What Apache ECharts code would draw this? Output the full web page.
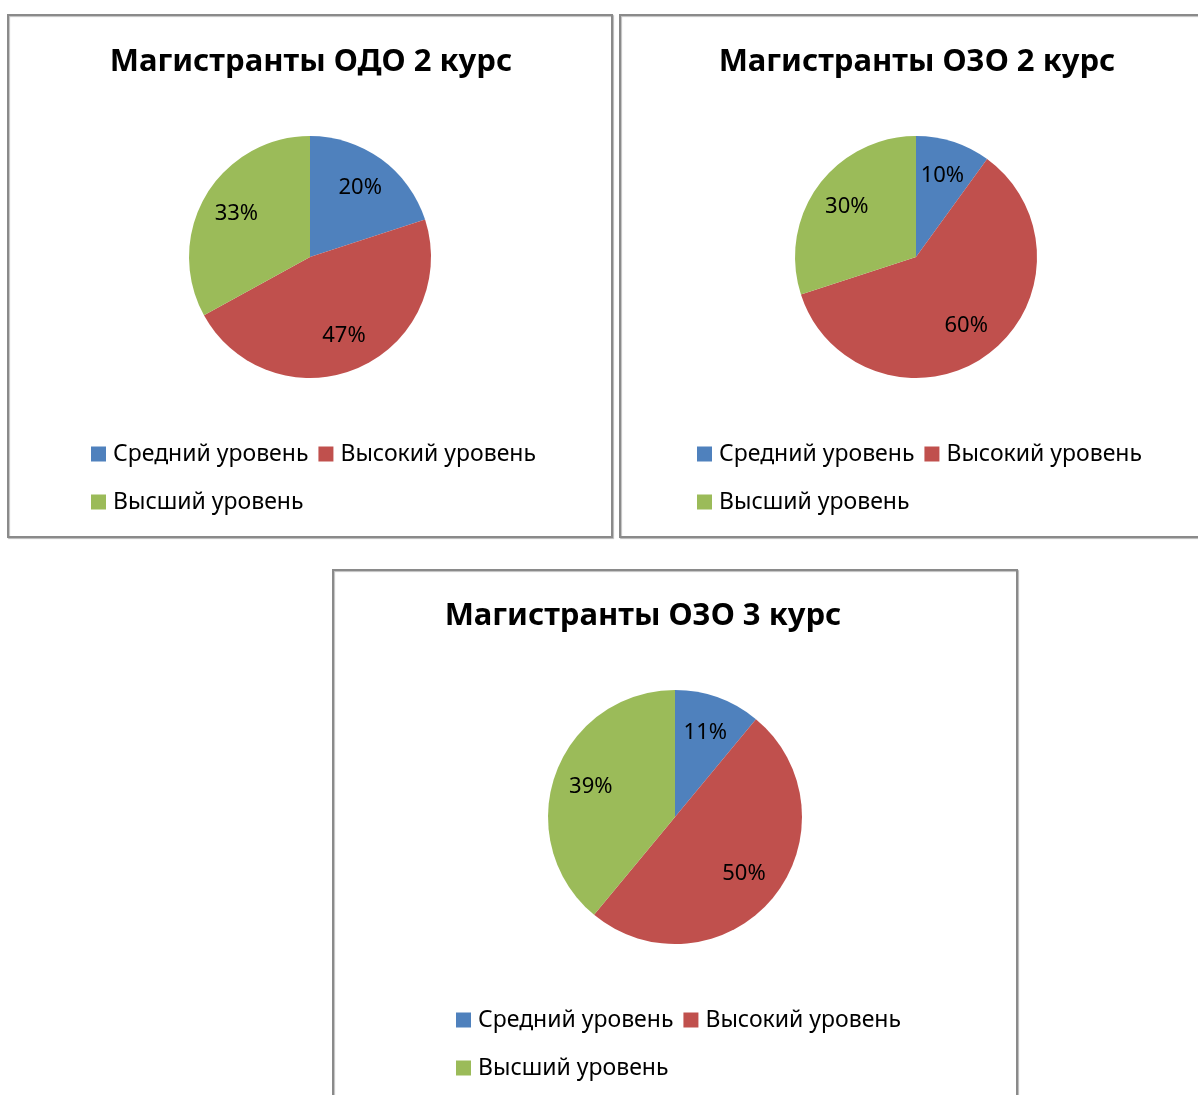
<!DOCTYPE html>
<html>
<head>
<meta charset="utf-8">
<script src="https://cdn.jsdelivr.net/npm/echarts@6/dist/echarts.min.js"></script>
<style>
  html, body { margin: 0; padding: 0; background: #fff; }
  #main { width: 1198px; height: 1095px; }
</style>
</head>
<body>
<div id="main"></div>
<script>
(function(){
  'use strict';

  // данные
  var levels = ['Средний уровень', 'Высокий уровень', 'Высший уровень'];
  var titles = ['Магистранты ОДО 2 курс', 'Магистранты ОЗО 2 курс', 'Магистранты ОЗО 3 курс'];
  var odo2 = [20, 47, 33];
  var ozo2 = [10, 60, 30];
  var ozo3 = [11, 50, 39];
  var colors = ['#4F81BD', '#C0504D', '#9BBB59'];

  var font = 'Noto Sans';

  // где что стоит
  var boxes = [
    {x: 8, y: 15, w: 604, h: 522, cx: 310, cy: 257, r: 121, tx: 306, ty: 57, ly: 455},
    {x: 620, y: 15, w: 600, h: 522, cx: 916, cy: 257, r: 121, tx: 912, ty: 57, ly: 455},
    {x: 333, y: 570, w: 684, h: 560, cx: 675, cy: 817, r: 127, tx: 638, ty: 611, ly: 1021}
  ];
  var sets = [odo2, ozo2, ozo3];

  function toData(vals){
    var out = [];
    for (var i = 0; i < levels.length; i++) {
      out.push({name: levels[i], value: vals[i]});
    }
    return out;
  }

  var title = [], legend = [], series = [], graphic = [];

  boxes.forEach(function(b, i){
    graphic.push({
      type: 'rect',
      shape: {x: b.x, y: b.y, width: b.w, height: b.h},
      style: {fill: '#fff', stroke: '#8a8a8a', lineWidth: 2,
              shadowColor: 'rgba(0,0,0,0.25)', shadowOffsetX: 1, shadowOffsetY: 1, shadowBlur: 1},
      z: -10,
      silent: true
    });

    title.push({
      text: titles[i],
      left: b.tx,
      top: b.ty,
      textAlign: 'center',
      textVerticalAlign: 'middle',
      textStyle: {fontFamily: font, fontWeight: 'bold', fontSize: 31, color: '#000'}
    });

    legend.push({
      data: levels,
      left: b.cx - 219,
      top: b.ly - 20,
      width: 470,
      orient: 'horizontal',
      itemWidth: 15,
      itemHeight: 15,
      itemGap: 10,
      icon: 'rect',
      padding: 0,
      selectedMode: false,
      textStyle: {fontFamily: font, fontSize: 23, color: '#000', lineHeight: 38, padding: [0, 0, 0, 2]}
    });

    // сам круг
    series.push({
      type: 'pie',
      center: [b.cx, b.cy],
      radius: [0, b.r],
      startAngle: 90,
      clockwise: true,
      color: colors,
      label: {show: false},
      labelLine: {show: false},
      emphasis: {disabled: true},
      data: toData(sets[i])
    });

    // подписи в процентах (прозрачный круг, чтобы подписи стояли дальше от центра)
    series.push({
      type: 'pie',
      center: [b.cx, b.cy],
      radius: [Math.round(b.r * 0.36), b.r],
      startAngle: 90,
      clockwise: true,
      silent: true,
      itemStyle: {color: 'rgba(0,0,0,0)'},
      label: {
        show: true,
        position: 'inside',
        formatter: '{c}%',
        fontFamily: font,
        fontSize: 22,
        color: '#000'
      },
      labelLine: {show: false},
      emphasis: {disabled: true},
      data: toData(sets[i])
    });
  });

  var myChart = echarts.init(document.getElementById('main'));
  myChart.setOption({
    animation: false,
    color: colors,
    title: title,
    legend: legend,
    graphic: graphic,
    series: series
  });
}());
</script>
</body>
</html>
